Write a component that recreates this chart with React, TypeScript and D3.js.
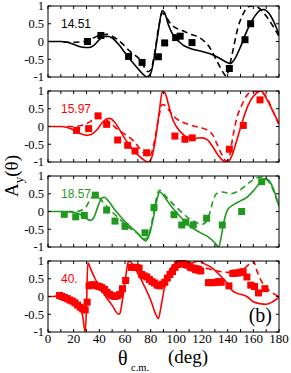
import * as d3 from "d3";

type Pt = [number, number];

const energies = ["14.51", "15.97", "18.57", "40."];
const colors = ["#000000", "#ff0000", "#1f9a1f", "#ff0000"];
const xTicks = [0, 20, 40, 60, 80, 100, 120, 140, 160, 180];
const yTicks = [-1, -0.5, 0, 0.5, 1];

// 14.51 MeV
const solid1: Pt[] = [[0,0],[10,0],[15,-0.02],[20,-0.08],[27,-0.16],[32,-0.17],[36,-0.1],[40,0.05],[44,0.14],[47,0.14],[50,0.1],[55,-0.08],[60,-0.32],[65,-0.55],[70,-0.76],[74,-0.92],[77,-1],[80,-0.9],[83,-0.4],[86,0.3],[89,0.87],[91,0.8],[94,0.45],[98,0.15],[102,0.0],[106,-0.12],[110,-0.18],[115,-0.24],[120,-0.28],[125,-0.33],[130,-0.4],[135,-0.5],[140,-0.6],[142,-0.62],[145,-0.52],[150,-0.15],[155,0.3],[160,0.65],[165,0.87],[168,0.9],[172,0.8],[176,0.55],[180,0.2]];
const dashed1: Pt[] = [[12,-0.02],[20,-0.02],[28,0.0],[34,0.08],[40,0.17],[46,0.2],[50,0.15],[56,0.0],[64,-0.28],[72,-0.52],[78,-0.85],[80,-0.8],[83,-0.35],[86,0.35],[89,0.8],[91,0.75],[94,0.58],[98,0.42],[104,0.32],[110,0.22],[118,0.11],[126,-0.17],[132,-0.58],[137,-0.9],[139,-0.98],[141,-0.75],[144,-0.27],[148,0.39],[152,0.77],[156,0.98],[160,1.0],[164,0.95],[170,0.72],[175,0.45],[180,0.15]];
const points1: Pt[] = [[30.8,0.0],[41.2,0.17],[62.8,-0.42],[73.3,-0.59],[86,-0.43],[90.9,-0.04],[99.5,0.11],[103,0.15],[112.2,-0.03],[141.3,-0.76],[153.5,0.05],[157.9,0.5]];

// 15.97 MeV
const solid2: Pt[] = [[0,0],[10,0],[15,-0.03],[20,-0.1],[25,-0.2],[30,-0.25],[34,-0.22],[38,-0.1],[42,0.1],[46,0.22],[48,0.23],[52,0.12],[56,-0.1],[60,-0.35],[65,-0.6],[70,-0.8],[75,-0.95],[78,-1],[81,-0.85],[84,-0.3],[87,0.5],[89,0.97],[91,0.95],[94,0.6],[97,0.22],[100,0.0],[104,-0.18],[108,-0.3],[112,-0.34],[116,-0.33],[120,-0.32],[124,-0.37],[128,-0.55],[132,-0.78],[136,-0.95],[140,-1],[143,-0.85],[147,-0.4],[152,0.2],[156,0.6],[160,0.85],[164,0.98],[166,1],[170,0.8],[175,0.45],[180,0.08]];
const dashed2: Pt[] = [[15,0],[20,0.0],[25,0.02],[30,0.08],[35,0.18],[40,0.25],[45,0.2],[50,0.05],[55,-0.1],[62,-0.27],[67,-0.42],[72,-0.64],[76,-0.8],[78,-0.85],[80,-0.8],[83,-0.4],[86,0.2],[89,0.62],[91,0.6],[95,0.42],[100,0.22],[105,0.12],[110,0.05],[115,0.0],[120,-0.04],[125,-0.12],[128,-0.22],[132,-0.52],[136,-0.83],[139,-0.97],[141,-0.9],[144,-0.3],[147,0.22],[151,0.6],[155,0.88],[160,1.0],[165,0.98],[170,0.85],[175,0.45],[180,0.05]];
const points2: Pt[] = [[22.3,-0.11],[31.7,-0.06],[39,0.3],[45.7,0.06],[54.3,-0.38],[62.1,-0.53],[67.8,-0.69],[76.9,-0.74],[98.9,-0.27],[106.7,-0.36],[112.4,-0.32],[141.3,-0.64],[152.2,0.03],[165.2,0.75]];

// 18.57 MeV
const solid3: Pt[] = [[0,0],[10,0],[20,-0.02],[25,-0.08],[30,-0.2],[33,-0.25],[36,-0.15],[39,0.15],[42,0.38],[44,0.4],[47,0.3],[51,0.1],[55,-0.08],[60,-0.28],[65,-0.45],[70,-0.62],[74,-0.78],[76,-0.83],[79,-0.65],[82,-0.2],[85,0.35],[87,0.55],[89,0.5],[92,0.35],[96,0.15],[100,-0.02],[105,-0.22],[110,-0.4],[115,-0.52],[120,-0.62],[125,-0.72],[130,-0.88],[133,-1],[135,-0.7],[137,-0.3],[140,0.05],[145,0.2],[150,0.3],[155,0.4],[160,0.58],[165,0.8],[169,0.92],[172,0.88],[176,0.6],[180,0.15]];
const dashed3: Pt[] = [[15,0],[22,0],[27,0.05],[30,0.15],[33,0.35],[36,0.45],[38,0.44],[42,0.3],[48,0.05],[54,-0.15],[60,-0.35],[65,-0.5],[70,-0.62],[74,-0.75],[76,-0.78],[79,-0.6],[82,-0.1],[85,0.45],[87,0.6],[90,0.5],[95,0.3],[100,0.12],[105,-0.05],[110,-0.2],[115,-0.3],[120,-0.36],[123,-0.3],[126,-0.05],[129,0.35],[132,0.52],[136,0.55],[142,0.5],[148,0.57],[153,0.7],[158,0.85],[163,0.95],[167,0.97],[171,0.88],[175,0.65],[178,0.35],[180,0.15]];
const points3: Pt[] = [[12.7,-0.08],[21.6,-0.15],[28.3,-0.11],[36.9,0.46],[45.7,0.04],[52.2,-0.27],[60,-0.42],[75.6,-0.6],[82.6,0.11],[98.2,-0.09],[104.2,-0.38],[107.3,-0.3],[113.2,-0.38],[123.6,-0.19],[135.8,-0.38],[150.9,0.0],[166.5,0.84]];

// 40 MeV
const solid4: Pt[] = [[0,0],[5,0],[10,0.05],[15,0.0],[20,-0.12],[24,-0.25],[27,-0.55],[29,-1],[30,-0.3],[31,0.95],[33,0.8],[36,0.55],[40,0.3],[45,0.0],[50,-0.25],[55,-0.5],[56,-0.48],[58,-0.1],[60,0.4],[62,0.9],[63,1.0],[65,0.95],[70,0.65],[75,0.3],[80,-0.1],[84,-0.5],[86,-0.62],[88,-0.3],[91,0.3],[95,0.75],[100,0.93],[105,0.97],[110,0.92],[115,0.98],[118,1.0],[122,0.92],[128,0.8],[134,0.6],[139,0.4],[144,0.15],[150,0.06],[155,0.0],[160,-0.15],[165,-0.2],[170,-0.22],[175,-0.15],[180,-0.02]];
const dashed4: Pt[] = [[100,0.9],[110,0.9],[118,0.85],[125,0.78],[132,0.72],[140,0.68],[146,0.68],[150,0.72],[154,0.82],[158,0.95],[160,1.0],[163,0.7],[166,0.45],[170,0.25],[175,0.1],[180,0.0]];
const points4: Pt[] = [[9,0.03],[11,0.0],[13,-0.03],[15,-0.06],[17,-0.1],[19,-0.13],[21,-0.18],[23,-0.24],[25,-0.3],[27,-0.35],[29,-0.38],[30.5,-0.16],[32,0.3],[34,0.33],[36,0.33],[38,0.3],[40,0.28],[42,0.25],[44,0.2],[46,0.12],[48,0.06],[50,0.02],[52,0.0],[54,0.02],[56,0.06],[58,0.22],[60.5,0.45],[65,0.82],[67,0.82],[69,0.82],[71,0.8],[73,0.62],[75,0.58],[77,0.55],[79,0.48],[81,0.42],[83,0.38],[85,0.32],[87,0.3],[89,0.35],[91,0.4],[93,0.52],[95,0.62],[97,0.7],[99,0.82],[101,0.9],[103,0.93],[105,0.93],[107,0.9],[109,0.88],[111,0.82],[113,0.8],[115,0.76],[117,0.74],[119,0.72],[125,0.39],[127,0.39],[129,0.39],[131,0.4],[133,0.42],[135,0.4],[141,0.3],[144,0.65],[146,0.66],[148,0.66],[150,0.68],[152,0.7],[155,0.55],[158,0.32],[161,0.28],[164,0.1],[169,0.22]];

const panels = [
  { label: energies[0], color: colors[0], solid: solid1, dashed: dashed1, points: points1 },
  { label: energies[1], color: colors[1], solid: solid2, dashed: dashed2, points: points2 },
  { label: energies[2], color: colors[2], solid: solid3, dashed: dashed3, points: points3 },
  { label: energies[3], color: colors[3], solid: solid4, dashed: dashed4, points: points4 },
];

const W = 291, H = 373;
const left = 48, right = 279;
const panelTops = [6, 91, 176, 261];
const panelH = 71;
const serif = "'Liberation Serif', 'Times New Roman', serif";
const sans = "'Liberation Sans', Arial, sans-serif";

const x = d3.scaleLinear().domain([0, 180]).range([left, right]);
const minorX = d3.range(0, 181, 10);

function Panel({ p, i }: { p: typeof panels[number]; i: number }) {
  const top = panelTops[i];
  const y = d3.scaleLinear().domain([-1, 1]).range([top + panelH, top]);
  const line = d3.line<Pt>().x(d => x(d[0])).y(d => y(d[1])).curve(d3.curveMonotoneX);
  const clipId = `clip${i}`;
  const sq = 7;
  return (
    <g>
      <clipPath id={clipId}>
        <rect x={left} y={top} width={right - left} height={panelH} />
      </clipPath>
      <g clipPath={`url(#${clipId})`}>
        <path d={line(p.solid) ?? ""} fill="none" stroke={p.color} strokeWidth={1.6} />
        <path d={line(p.dashed) ?? ""} fill="none" stroke={p.color} strokeWidth={1.6} strokeDasharray="6,4" />
      </g>
      {p.points.map((d, k) => (
        <rect key={k} x={x(d[0]) - sq / 2} y={y(d[1]) - sq / 2} width={sq} height={sq} fill={p.color} />
      ))}
      <rect x={left} y={top} width={right - left} height={panelH} fill="none" stroke="#000" strokeWidth={1} />
      {minorX.map(t => (
        <g key={t}>
          <line x1={x(t)} x2={x(t)} y1={top + panelH} y2={top + panelH - 3} stroke="#000" />
          <line x1={x(t)} x2={x(t)} y1={top} y2={top + 3} stroke="#000" />
        </g>
      ))}
      {yTicks.map(t => (
        <g key={t}>
          <line x1={left} x2={left + 3} y1={y(t)} y2={y(t)} stroke="#000" />
          <line x1={right} x2={right - 3} y1={y(t)} y2={y(t)} stroke="#000" />
          <text x={left - 4} y={y(t) + 4.3} textAnchor="end" fontFamily={serif} fontSize={12.5}>{String(t)}</text>
        </g>
      ))}
      <text x={61} y={top + 22} fontFamily={sans} fontSize={12} fill={p.color}>{p.label}</text>
    </g>
  );
}

export default function App() {
  const lastTop = panelTops[3] + panelH;
  return (
    <svg width={W} height={H} style={{ position: "absolute", left: 0, top: 0, background: "#fff" }}>
      {panels.map((p, i) => <Panel key={i} p={p} i={i} />)}
      {xTicks.map(t => (
        <text key={t} x={x(t)} y={lastTop + 11} textAnchor="middle" fontFamily={serif} fontSize={13}>{t}</text>
      ))}
      <text x={272} y={322} textAnchor="end" fontFamily={serif} fontSize={20}>(b)</text>
      <text transform="translate(18,176) rotate(-90)" textAnchor="middle" fontFamily={serif} fontSize={19}>
        A<tspan fontSize={13} dy={5}>y</tspan><tspan dy={-5}>(θ)</tspan>
      </text>
      <text x={118} y={365} fontFamily={serif} fontSize={20}>θ</text>
      <text x={131} y={371} fontFamily={serif} fontSize={10.5}>c.m.</text>
      <text x={168} y={363} fontFamily={serif} fontSize={19}>(deg)</text>
    </svg>
  );
}
